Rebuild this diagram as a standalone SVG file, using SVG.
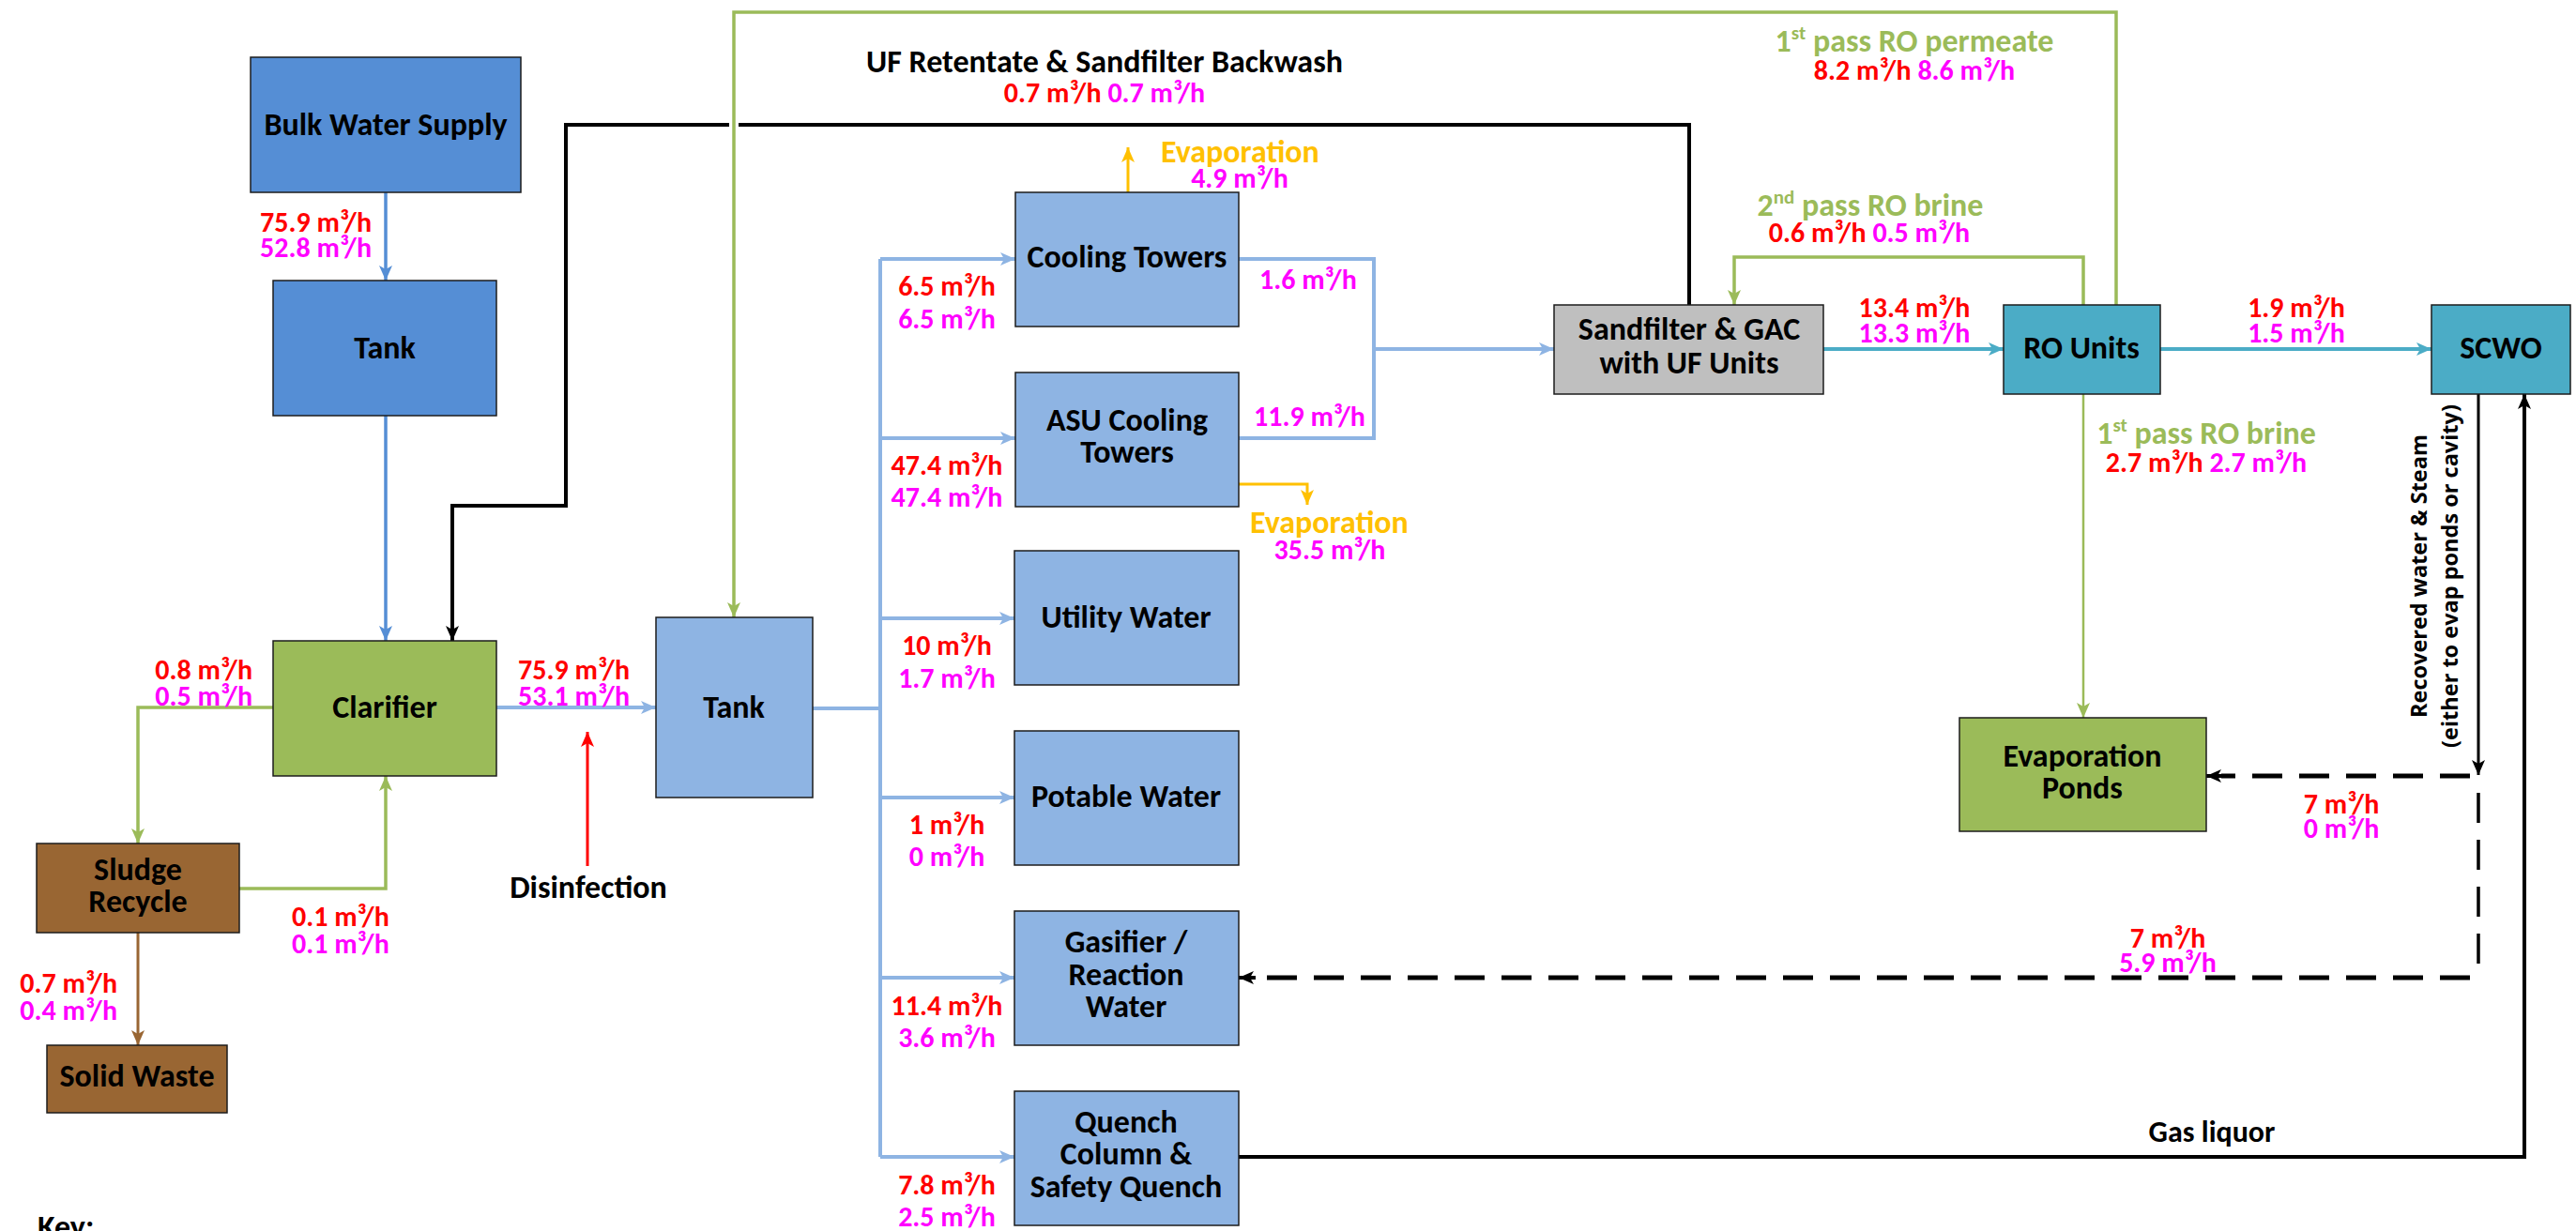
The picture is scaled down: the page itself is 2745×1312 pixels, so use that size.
<svg xmlns="http://www.w3.org/2000/svg" width="2745" height="1312" viewBox="0 0 2745 1312">
  <style>
    .node rect { stroke: #1c1c1c; stroke-width: 1.5; }
    .dk { fill: #558ED5; }
    .lt { fill: #8EB4E3; }
    .gr { fill: #9BBB59; }
    .br { fill: #996633; }
    .gy { fill: #BFBFBF; }
    .tl { fill: #4BACC6; }
    text { font-family: Carlito, Calibri, Lato, "Liberation Sans", sans-serif; font-weight: bold; }
    .nt { font-size: 34px; fill: #000; text-anchor: middle; }
    .fl { font-size: 30px; text-anchor: middle; }
    .cap { font-size: 34px; text-anchor: middle; }
    .s { text-anchor: start; }
    .e { text-anchor: end; }
    .r { fill: #FF0000; }
    .m { fill: #FF00FF; }
    .o { fill: #FFC000; }
    .g { fill: #9BBB59; }
    .k { fill: #000; }
    .sup { font-size: 21px; }
    .vt { font-family: "Open Sans", "DejaVu Sans", sans-serif; font-weight: bold; font-size: 23.5px; fill: #000; text-anchor: middle; }
    .conn path, .conn line { fill: none; stroke-linejoin: miter; }
    .c-dk { stroke: #558ED5; stroke-width: 3.5; }
    .c-lt { stroke: #8EB4E3; stroke-width: 4; }
    .c-tl { stroke: #4BACC6; stroke-width: 4; }
    .c-gr { stroke: #9BBB59; stroke-width: 3.5; }
    .c-gr2 { stroke: #9BBB59; stroke-width: 2.5; }
    .c-br { stroke: #996633; stroke-width: 3; }
    .c-rd { stroke: #FF0000; stroke-width: 3; }
    .c-or { stroke: #FFC000; stroke-width: 3; }
    .c-bk { stroke: #000; stroke-width: 4; }
    .c-bk3 { stroke: #000; stroke-width: 3; }
    .c-dh { stroke: #000; stroke-width: 5; stroke-dasharray: 32 18; }
    .c-dv { stroke: #000; stroke-width: 3.5; stroke-dasharray: 32 18; }
  </style>
  <defs>
    <marker id="a-dk" markerUnits="userSpaceOnUse" viewBox="0 0 16 14" refX="16" refY="7" markerWidth="16" markerHeight="14" orient="auto"><path d="M0,0 L16,7 L0,14 L4,7 z" fill="#558ED5"/></marker>
    <marker id="a-lt" markerUnits="userSpaceOnUse" viewBox="0 0 16 14" refX="16" refY="7" markerWidth="16" markerHeight="14" orient="auto"><path d="M0,0 L16,7 L0,14 L4,7 z" fill="#8EB4E3"/></marker>
    <marker id="a-tl" markerUnits="userSpaceOnUse" viewBox="0 0 16 14" refX="16" refY="7" markerWidth="16" markerHeight="14" orient="auto"><path d="M0,0 L16,7 L0,14 L4,7 z" fill="#4BACC6"/></marker>
    <marker id="a-gr" markerUnits="userSpaceOnUse" viewBox="0 0 16 14" refX="16" refY="7" markerWidth="16" markerHeight="14" orient="auto"><path d="M0,0 L16,7 L0,14 L4,7 z" fill="#9BBB59"/></marker>
    <marker id="a-br" markerUnits="userSpaceOnUse" viewBox="0 0 16 14" refX="16" refY="7" markerWidth="16" markerHeight="14" orient="auto"><path d="M0,0 L16,7 L0,14 L4,7 z" fill="#996633"/></marker>
    <marker id="a-rd" markerUnits="userSpaceOnUse" viewBox="0 0 16 14" refX="16" refY="7" markerWidth="16" markerHeight="14" orient="auto"><path d="M0,0 L16,7 L0,14 L4,7 z" fill="#FF0000"/></marker>
    <marker id="a-or" markerUnits="userSpaceOnUse" viewBox="0 0 16 14" refX="16" refY="7" markerWidth="16" markerHeight="14" orient="auto"><path d="M0,0 L16,7 L0,14 L4,7 z" fill="#FFC000"/></marker>
    <marker id="a-bk" markerUnits="userSpaceOnUse" viewBox="0 0 16 14" refX="16" refY="7" markerWidth="16" markerHeight="14" orient="auto"><path d="M0,0 L16,7 L0,14 L4,7 z" fill="#000"/></marker>
  </defs>

  <rect width="2745" height="1312" fill="#fff"/>

  <!-- connectors -->
  <g id="connectors" class="conn">
    <!-- supply line -->
    <line class="c-dk" x1="411" y1="205" x2="411" y2="299" marker-end="url(#a-dk)"/>
    <line class="c-dk" x1="411" y1="443" x2="411" y2="683" marker-end="url(#a-dk)"/>
    <!-- UF retentate & sandfilter backwash return (broken where it crosses the permeate line) -->
    <path class="c-bk" d="M1800,325 V133 H787"/>
    <path class="c-bk" d="M777,133 H603 V539 H482 V683" marker-end="url(#a-bk)"/>
    <!-- 1st pass RO permeate -->
    <path class="c-gr" d="M2255,325 V13 H782 V658" marker-end="url(#a-gr)"/>
    <!-- clarifier to tank -->
    <line class="c-lt" x1="529" y1="754" x2="699" y2="754" marker-end="url(#a-lt)"/>
    <!-- disinfection dosing -->
    <line class="c-rd" x1="626" y1="923" x2="626" y2="780" marker-end="url(#a-rd)"/>
    <!-- clarifier underflow to sludge recycle -->
    <path class="c-gr" d="M291,754 H147 V899" marker-end="url(#a-gr)"/>
    <path class="c-gr" d="M255,947 H411 V827" marker-end="url(#a-gr)"/>
    <line class="c-br" x1="147" y1="994" x2="147" y2="1114" marker-end="url(#a-br)"/>
    <!-- distribution header from the tank -->
    <path class="c-lt" d="M866,755 H938"/>
    <path class="c-lt" d="M938,276 V1233"/>
    <line class="c-lt" x1="938" y1="276" x2="1082" y2="276" marker-end="url(#a-lt)"/>
    <line class="c-lt" x1="938" y1="467" x2="1082" y2="467" marker-end="url(#a-lt)"/>
    <line class="c-lt" x1="938" y1="659" x2="1081" y2="659" marker-end="url(#a-lt)"/>
    <line class="c-lt" x1="938" y1="850" x2="1081" y2="850" marker-end="url(#a-lt)"/>
    <line class="c-lt" x1="938" y1="1042" x2="1081" y2="1042" marker-end="url(#a-lt)"/>
    <line class="c-lt" x1="938" y1="1233" x2="1081" y2="1233" marker-end="url(#a-lt)"/>
    <!-- cooling tower blowdown -->
    <path class="c-lt" d="M1320,276 H1464 V467 H1320"/>
    <line class="c-lt" x1="1464" y1="372" x2="1656" y2="372" marker-end="url(#a-lt)"/>
    <!-- evaporation losses -->
    <line class="c-or" x1="1202" y1="205" x2="1202" y2="157" marker-end="url(#a-or)"/>
    <path class="c-or" d="M1320,516 H1393 V538" marker-end="url(#a-or)"/>
    <!-- RO train -->
    <line class="c-tl" x1="1943" y1="372" x2="2135" y2="372" marker-end="url(#a-tl)"/>
    <line class="c-tl" x1="2302" y1="372" x2="2591" y2="372" marker-end="url(#a-tl)"/>
    <path class="c-gr" d="M2220,325 V274 H1848 V325" marker-end="url(#a-gr)"/>
    <line class="c-gr2" x1="2220" y1="420" x2="2220" y2="765" marker-end="url(#a-gr)"/>
    <!-- SCWO recovered water & steam -->
    <line class="c-bk3" x1="2641" y1="420" x2="2641" y2="826" marker-end="url(#a-bk)"/>
    <line class="c-dh" x1="2632" y1="827" x2="2367" y2="827"/>
    <line class="c-bk" x1="2368" y1="827" x2="2351" y2="827" marker-end="url(#a-bk)"/>
    <line class="c-dv" x1="2641" y1="845" x2="2641" y2="1032"/>
    <line class="c-dh" x1="2632" y1="1042" x2="1337" y2="1042"/>
    <line class="c-bk" x1="1338" y1="1042" x2="1320" y2="1042" marker-end="url(#a-bk)"/>
    <!-- gas liquor -->
    <path class="c-bk" d="M1320,1233 H2690 V420" marker-end="url(#a-bk)"/>
  </g>

  <!-- nodes -->
  <g id="bulk-water-supply" class="node">
    <rect class="dk" x="267" y="61" width="288" height="144"/>
    <text class="nt" x="411" y="144">Bulk Water Supply</text>
  </g>
  <g id="tank-raw" class="node">
    <rect class="dk" x="291" y="299" width="238" height="144"/>
    <text class="nt" x="410" y="382">Tank</text>
  </g>
  <g id="clarifier" class="node">
    <rect class="gr" x="291" y="683" width="238" height="144"/>
    <text class="nt" x="410" y="765">Clarifier</text>
  </g>
  <g id="sludge-recycle" class="node">
    <rect class="br" x="39" y="899" width="216" height="95"/>
    <text class="nt" x="147" y="938">Sludge</text>
    <text class="nt" x="147" y="972">Recycle</text>
  </g>
  <g id="solid-waste" class="node">
    <rect class="br" x="50" y="1114" width="192" height="72"/>
    <text class="nt" x="146" y="1158">Solid Waste</text>
  </g>
  <g id="tank-treated" class="node">
    <rect class="lt" x="699" y="658" width="167" height="192"/>
    <text class="nt" x="782" y="765">Tank</text>
  </g>
  <g id="cooling-towers" class="node">
    <rect class="lt" x="1082" y="205" width="238" height="143"/>
    <text class="nt" x="1201" y="285">Cooling Towers</text>
  </g>
  <g id="asu-cooling-towers" class="node">
    <rect class="lt" x="1082" y="397" width="238" height="143"/>
    <text class="nt" x="1201" y="459">ASU Cooling</text>
    <text class="nt" x="1201" y="493">Towers</text>
  </g>
  <g id="utility-water" class="node">
    <rect class="lt" x="1081" y="587" width="239" height="143"/>
    <text class="nt" x="1200" y="669">Utility Water</text>
  </g>
  <g id="potable-water" class="node">
    <rect class="lt" x="1081" y="779" width="239" height="143"/>
    <text class="nt" x="1200" y="860">Potable Water</text>
  </g>
  <g id="gasifier-reaction-water" class="node">
    <rect class="lt" x="1081" y="971" width="239" height="143"/>
    <text class="nt" x="1200" y="1015">Gasifier /</text>
    <text class="nt" x="1200" y="1050">Reaction</text>
    <text class="nt" x="1200" y="1084">Water</text>
  </g>
  <g id="quench-column" class="node">
    <rect class="lt" x="1081" y="1163" width="239" height="143"/>
    <text class="nt" x="1200" y="1207">Quench</text>
    <text class="nt" x="1200" y="1241">Column &amp;</text>
    <text class="nt" x="1200" y="1276">Safety Quench</text>
  </g>
  <g id="sandfilter-gac-uf" class="node">
    <rect class="gy" x="1656" y="325" width="287" height="95"/>
    <text class="nt" x="1800" y="362">Sandfilter &amp; GAC</text>
    <text class="nt" x="1800" y="398">with UF Units</text>
  </g>
  <g id="ro-units" class="node">
    <rect class="tl" x="2135" y="325" width="167" height="95"/>
    <text class="nt" x="2218" y="382">RO Units</text>
  </g>
  <g id="scwo" class="node">
    <rect class="tl" x="2591" y="325" width="148" height="95"/>
    <text class="nt" x="2665" y="382">SCWO</text>
  </g>
  <g id="evaporation-ponds" class="node">
    <rect class="gr" x="2088" y="765" width="263" height="121"/>
    <text class="nt" x="2219" y="817">Evaporation</text>
    <text class="nt" x="2219" y="851">Ponds</text>
  </g>

  <!-- stream labels -->
  <g id="labels">
    <text class="fl e r" x="396" y="247">75.9 m³/h</text>
    <text class="fl e m" x="396" y="274">52.8 m³/h</text>

    <text class="fl e r" x="269" y="724">0.8 m³/h</text>
    <text class="fl e m" x="269" y="752">0.5 m³/h</text>
    <text class="fl e r" x="671" y="724">75.9 m³/h</text>
    <text class="fl e m" x="671" y="752">53.1 m³/h</text>

    <text class="fl s r" x="311" y="987">0.1 m³/h</text>
    <text class="fl s m" x="311" y="1016">0.1 m³/h</text>
    <text class="fl e r" x="125" y="1058">0.7 m³/h</text>
    <text class="fl e m" x="125" y="1087">0.4 m³/h</text>

    <text class="cap k" x="627" y="957">Disinfection</text>

    <text class="cap k" x="1177" y="77">UF Retentate &amp; Sandfilter Backwash</text>
    <text class="fl" x="1177" y="109"><tspan class="r">0.7 m³/h</tspan> <tspan class="m">0.7 m³/h</tspan></text>

    <text class="cap s o" x="1237" y="173">Evaporation</text>
    <text class="fl m" x="1321" y="200">4.9 m³/h</text>

    <text class="fl r" x="1009" y="315">6.5 m³/h</text>
    <text class="fl m" x="1009" y="350">6.5 m³/h</text>
    <text class="fl s m" x="1342" y="308">1.6 m³/h</text>
    <text class="fl s m" x="1336" y="454">11.9 m³/h</text>

    <text class="fl r" x="1009" y="506">47.4 m³/h</text>
    <text class="fl m" x="1009" y="540">47.4 m³/h</text>
    <text class="cap s o" x="1332" y="568">Evaporation</text>
    <text class="fl m" x="1417" y="596">35.5 m³/h</text>

    <text class="fl r" x="1009" y="698">10 m³/h</text>
    <text class="fl m" x="1009" y="733">1.7 m³/h</text>
    <text class="fl r" x="1009" y="889">1 m³/h</text>
    <text class="fl m" x="1009" y="923">0 m³/h</text>
    <text class="fl r" x="1009" y="1082">11.4 m³/h</text>
    <text class="fl m" x="1009" y="1116">3.6 m³/h</text>
    <text class="fl r" x="1009" y="1273">7.8 m³/h</text>
    <text class="fl m" x="1009" y="1307">2.5 m³/h</text>

    <text class="cap g" x="2040" y="55">1<tspan class="sup" dy="-13">st</tspan><tspan dy="13"> pass RO permeate</tspan></text>
    <text class="fl" x="2040" y="85"><tspan class="r">8.2 m³/h</tspan> <tspan class="m">8.6 m³/h</tspan></text>

    <text class="cap g" x="1993" y="230">2<tspan class="sup" dy="-13">nd</tspan><tspan dy="13"> pass RO brine</tspan></text>
    <text class="fl" x="1992" y="258"><tspan class="r">0.6 m³/h</tspan> <tspan class="m">0.5 m³/h</tspan></text>

    <text class="fl r" x="2040" y="338">13.4 m³/h</text>
    <text class="fl m" x="2040" y="365">13.3 m³/h</text>
    <text class="fl r" x="2447" y="338">1.9 m³/h</text>
    <text class="fl m" x="2447" y="365">1.5 m³/h</text>

    <text class="cap g" x="2351" y="473">1<tspan class="sup" dy="-13">st</tspan><tspan dy="13"> pass RO brine</tspan></text>
    <text class="fl" x="2351" y="503"><tspan class="r">2.7 m³/h</tspan> <tspan class="m">2.7 m³/h</tspan></text>

    <g transform="translate(2594,614) rotate(-90)">
      <text class="vt" x="0" y="-8">Recovered water &amp; Steam</text>
      <text class="vt" x="0" y="25">(either to evap ponds or cavity)</text>
    </g>

    <text class="fl r" x="2495" y="867">7 m³/h</text>
    <text class="fl m" x="2495" y="893">0 m³/h</text>
    <text class="fl r" x="2310" y="1010">7 m³/h</text>
    <text class="fl m" x="2310" y="1036">5.9 m³/h</text>

    <text class="cap k" x="2357" y="1217" style="font-size:32px">Gas liquor</text>

    <text class="k" x="40" y="1319" style="font-size:34px">Key:</text>
  </g>
</svg>
